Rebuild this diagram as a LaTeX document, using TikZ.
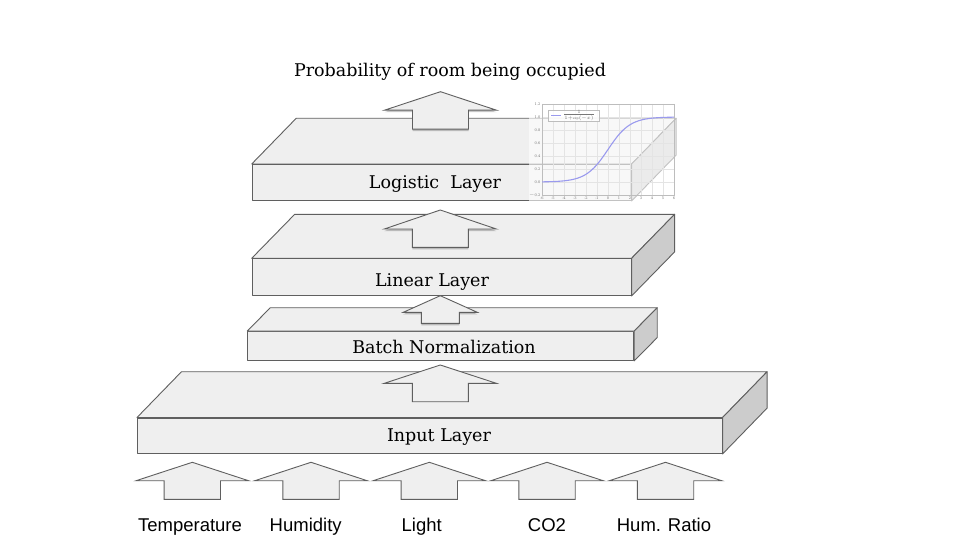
\documentclass[tikz,border=0pt]{standalone}
\usepackage{fontspec}
\setmainfont{DejaVu Serif}
\newfontfamily\labelsans{Liberation Sans}
\usetikzlibrary{shadows,calc}
\definecolor{facefill}{HTML}{EFEFEF}
\definecolor{sidefill}{HTML}{CCCCCC}
\definecolor{edgecol}{HTML}{5F5F5F}
\definecolor{curvecol}{HTML}{9A9AEE}
\definecolor{gridcol}{HTML}{E4E4E4}
\definecolor{axiscol}{HTML}{BDBDBD}
\definecolor{tickcol}{HTML}{777777}
\tikzset{
  x=1pt, y=-1pt,
  face/.style={draw=edgecol, fill=facefill, line width=0.9pt, line join=round},
  sideface/.style={draw=edgecol, fill=sidefill, line width=0.9pt, line join=round},
  frontface/.style={face, inner sep=0pt, anchor=north west},
  blockarrow/.style={draw=edgecol, fill=facefill, line width=0.9pt, line join=miter},
  shadowed/.style={blockarrow, drop shadow={shadow xshift=0pt, shadow yshift=-2pt, opacity=0.22, fill=black}},
  layertext/.style={font=\fontsize{17.5}{20}\selectfont, text=black, inner sep=0pt, anchor=base},
  inputtext/.style={font=\labelsans\fontsize{18.5}{22}\selectfont, text=black, inner sep=0pt, anchor=base},
  ticktext/.style={font=\fontsize{3.6}{4}\selectfont, text=tickcol, inner sep=0pt},
}
% slab: name, x, y (front top-left), width, height, dx, dy
\newcommand\slabshape[7]{%
  \node[frontface, minimum width=#4pt, minimum height=#5pt] (#1) at (#2,#3) {};
  \draw[face] (#1.north west) -- ++(#6,-#7) -- ($(#1.north east)+(#6,-#7)$) -- (#1.north east) -- cycle;
  \draw[sideface] (#1.north east) -- ++(#6,-#7) -- ($(#1.south east)+(#6,-#7)$) -- (#1.south east) -- cycle;
}
% block arrow: style, cx, tip y, head half width, shaft half width, head height, total height
\newcommand\blkarrow[7]{%
  \draw[#1] (#2,#3) -- (#2+#4,#3+#6) -- (#2+#5,#3+#6) -- (#2+#5,#3+#7) -- (#2-#5,#3+#7) -- (#2-#5,#3+#6) -- (#2-#4,#3+#6) -- cycle;
}
\begin{document}
\begin{tikzpicture}
\useasboundingbox (0,0) rectangle (960,540);
\fill[white] (0,0) rectangle (960,540);

% title
\node[layertext] (title) at (450,76.7) {Probability of room being occupied};

% logistic layer
\slabshape{logi}{251.7}{164}{379}{36}{44.5}{45.7}
\node[layertext] (logitext) at (435,188.3) {Logistic\ \ Layer};
\blkarrow{shadowed}{440.5}{91.7}{56}{28}{18.5}{37.5}

% sigmoid plot overlay
\fill[white, opacity=0.62] (529,100) rectangle (677,201.5);
\foreach \u in {-6,...,6} {
  \draw[gridcol, line width=0.35pt] ({608+11*\u},104) -- ({608+11*\u},195);
  \node[ticktext] at ({608+11*\u},198.6) {\u};
}
\foreach \k/\lab in {0/$-$0.2,1/0.0,2/0.2,3/0.4,4/0.6,5/0.8,6/1.0,7/1.2} {
  \draw[gridcol, line width=0.35pt] (542,{195-13*\k}) -- (674,{195-13*\k});
  \node[ticktext, anchor=east] at (540.5,{195-13*\k}) {\lab};
}
\draw[axiscol, line width=0.4pt] (542,104) rectangle (674,195);
\draw[curvecol, line width=1.1pt, domain=-6:6, samples=90, smooth] plot ({608+11*\x},{182-65/(1+exp(-\x))});
\draw[axiscol, fill=white, fill opacity=0.85, line width=0.35pt] (548,110) rectangle (599,121);
\draw[curvecol, line width=1.2pt] (551,115.5) -- (561,115.5);
\node[font=\fontsize{4.6}{5}\selectfont, text=tickcol, inner sep=0pt] (legend) at (579,115.5) {$\frac{1}{1+\exp(-x)}$};

% linear layer
\slabshape{lin}{251.7}{258.3}{379}{36.7}{43}{44}
\node[layertext] (lintext) at (432,286) {Linear Layer};
\blkarrow{shadowed}{440.3}{210}{56}{28}{19}{37.3}

% batch normalization
\slabshape{bn}{247.3}{331}{386}{29}{23}{23.3}
\node[layertext] (bntext) at (444,353.3) {Batch Normalization};
\blkarrow{shadowed}{440.3}{295.7}{37}{19}{16.6}{27.6}

% input layer
\slabshape{inp}{137}{417.5}{584.7}{35.5}{44.5}{45.8}
\node[layertext] (inptext) at (439,441.7) {Input Layer};
\blkarrow{blockarrow}{440.3}{365}{56}{28}{18.3}{36.7}

% input arrows
\foreach \cx in {192.3,311,429.3,547,665.5} {
  \blkarrow{blockarrow}{\cx}{462.3}{56.2}{28.2}{18.4}{37}
}
\node[inputtext] (temp) at (190,531.7) {Temperature};
\node[inputtext] (hum) at (305.7,531.7) {Humidity};
\node[inputtext] (light) at (421.7,531.7) {Light};
\node[inputtext] (co2) at (547,531.7) {CO2};
\node[inputtext] (ratio) at (664,531.7) {Hum. Ratio};
\end{tikzpicture}
\end{document}
